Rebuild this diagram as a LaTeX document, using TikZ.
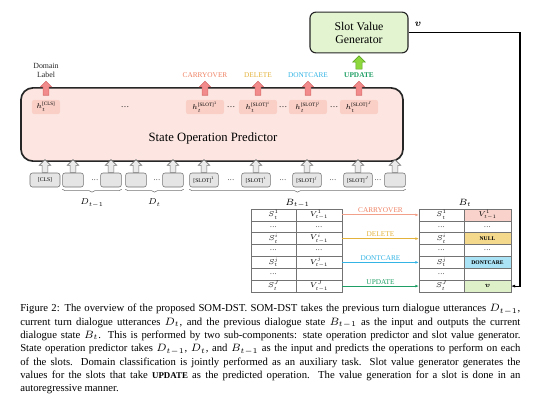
\RequirePackage{fix-cm}
\documentclass[tikz,border=0pt]{standalone}
\usepackage{amsmath, amssymb}
\usepackage{fontspec}
\setmainfont{Liberation Serif}
\usepackage{tikz}
\usetikzlibrary{arrows.meta, positioning, calc}
\usetikzlibrary{shapes, shapes.arrows, decorations.pathreplacing}
\usepackage{xcolor}
\DeclareMathSizes{5}{5}{3.6}{2.8}
\DeclareMathSizes{6}{6}{4.3}{3.3}
\DeclareMathSizes{6.5}{6.5}{4.6}{3.5}

\definecolor{gencol}{HTML}{E3F4D0}
\definecolor{sopcol}{HTML}{FDE6E1}
\definecolor{hcol}{HTML}{F9CFC6}
\definecolor{arrfill}{HTML}{F28C8C}
\definecolor{arrdraw}{HTML}{D66A6A}
\definecolor{grnfill}{HTML}{8ED83E}
\definecolor{grndraw}{HTML}{5DA624}
\definecolor{carrycol}{HTML}{EE8162}
\definecolor{delcol}{HTML}{E2B23A}
\definecolor{dccol}{HTML}{33B4E4}
\definecolor{updcol}{HTML}{1E9E64}
\definecolor{cellcarry}{HTML}{F9D3CB}
\definecolor{celldel}{HTML}{F4D88C}
\definecolor{celldc}{HTML}{ABE3F6}
\definecolor{cellupd}{HTML}{DDF0C8}

\begin{document}
\begin{tikzpicture}[
		x=0.025cm, y=-0.025cm,
		genbox/.style={draw=black!85, thick, rounded corners=0.15cm, fill=gencol, minimum width=2.45cm, minimum height=1.02cm, align=center, font=\fontsize{8.4}{9.3}\selectfont},
		sopbox/.style={draw=black!85, very thick, rounded corners=0.3cm, fill=sopcol, minimum width=9.55cm, minimum height=1.83cm},
		hbox/.style={rounded corners=0.06cm, fill=hcol, minimum width=0.95cm, minimum height=0.36cm, inner sep=1pt, font=\fontsize{5}{6}\selectfont},
		tok/.style={draw=black!55, fill=black!10, rounded corners=0.06cm, minimum width=0.52cm, minimum height=0.35cm, inner sep=0.5pt, font=\fontsize{4}{5}\selectfont},
		redarrow/.style={single arrow, shape border rotate=90, draw=arrdraw, fill=arrfill, inner sep=0.065cm, single arrow head extend=0.07cm, minimum height=0.35cm},
		grayarrow/.style={single arrow, shape border rotate=90, draw=black!55, fill=black!8, inner sep=0.065cm, single arrow head extend=0.07cm, minimum height=0.32cm},
		grnarrow/.style={single arrow, shape border rotate=90, draw=grndraw, fill=grnfill, inner sep=0.07cm, single arrow head extend=0.08cm, minimum height=0.33cm},
		oplab/.style={inner sep=1pt, font=\fontsize{5.2}{6}\selectfont},
		dotsnode/.style={inner sep=0pt, font=\fontsize{6}{7}\selectfont},
		cell/.style={draw=black!55, thin, minimum height=0.296cm, inner sep=0pt, outer sep=0pt, font=\fontsize{5}{5}\selectfont},
		brace/.style={decorate, decoration={brace, mirror, amplitude=0.07cm}, draw=black!55, thin},
		oparrow/.style={->, thick, >={Latex[length=2.5pt]}}
		]

	\useasboundingbox (0,0) rectangle (541,403);

	% Generateur
	\node[genbox] (gen) at (359,32.5) {Slot Value\\Generator};
	\node[grnarrow, anchor=tip] (ga-gen) at ([yshift=-0.05cm]gen.south) {};
	\node[font=\fontsize{7}{8}\selectfont] (vlab) at (418,24) {$\boldsymbol{v}$};

	% Predicteur
	\node[sopbox] (sop) at (212,124.5) {};
	\node[font=\fontsize{9}{10}\selectfont] (soptxt) at (213,138) {State Operation Predictor};

	\node[hbox, minimum width=0.7cm] (hcls) at (46,107) {$h_t^{\text{[CLS]}}$};
	\node[hbox] (h1) at (205,107) {$h_t^{\text{[SLOT]}^1}$};
	\node[hbox] (hi) at (258,107) {$h_t^{\text{[SLOT]}^i}$};
	\node[hbox] (hj) at (308,107) {$h_t^{\text{[SLOT]}^j}$};
	\node[hbox] (hJ) at (359,107) {$h_t^{\text{[SLOT]}^J}$};
	\foreach \x [count=\k] in {125,231,283,334}
		\node[dotsnode] (dh\k) at (\x,107) {\dots};

	\foreach \n in {hcls,h1,hi,hj,hJ}
		\node[redarrow, anchor=tail] (ra-\n) at ([yshift=0.1cm]\n.north) {};

	\node[oplab, above=0.03cm of ra-hcls.tip, align=center, font=\fontsize{5.6}{6.6}\selectfont, text=black!85] (ldom) {Domain\\Label};
	\node[oplab, above=0.04cm of ra-h1.tip, text=carrycol] (lcarry) {CARRYOVER};
	\node[oplab, above=0.04cm of ra-hi.tip, text=delcol] (ldel) {DELETE};
	\node[oplab, above=0.04cm of ra-hj.tip, text=dccol] (ldc) {DONTCARE};
	\node[oplab, above=0.04cm of ra-hJ.tip, text=updcol, font=\fontsize{5.2}{6}\selectfont\bfseries] (lupd) {UPDATE};

	% Entrees
	\node[tok, minimum width=0.75cm] (cls) at (45,180) {[CLS]};
	\node[tok] (d1a) at (73,180) {};
	\node[tok] (d1b) at (111,180) {};
	\node[tok] (d2a) at (136,180) {};
	\node[tok] (d2b) at (173,180) {};
	\node[tok, minimum width=0.72cm] (s1) at (204,180) {[SLOT]$^1$};
	\node[tok, minimum width=0.72cm] (si) at (256,180) {[SLOT]$^i$};
	\node[tok, minimum width=0.72cm] (sj) at (307,180) {[SLOT]$^j$};
	\node[tok, minimum width=0.72cm] (sJ) at (358,180) {[SLOT]$^J$};
	\node[tok] (sl) at (395,180) {};
	\foreach \x [count=\k] in {95,157,231,283,333,378}
		\node[dotsnode, font=\fontsize{5}{6}\selectfont] (di\k) at (\x,180) {\dots};

	\foreach \n in {cls,d1a,d1b,d2a,d2b,s1,si,sj,sJ,sl}
		\node[grayarrow, anchor=tail] (ga-\n) at (\n.north) {};

	\draw[brace] ([yshift=-0.05cm]d1a.south west) -- ([yshift=-0.05cm]d1b.south east) node[midway, below=0.12cm, font=\fontsize{6}{7}\selectfont] (lDp) {$D_{t-1}$};
	\draw[brace] ([yshift=-0.05cm]d2a.south west) -- ([yshift=-0.05cm]d2b.south east) node[midway, below=0.12cm, font=\fontsize{6}{7}\selectfont] (lD) {$D_t$};
	\draw[brace] ([yshift=-0.05cm]s1.south west) -- ([yshift=-0.05cm]sl.south east) node[midway, below=0.12cm, font=\fontsize{6.5}{7}\selectfont] (lBp) {$B_{t-1}$};

	% Etats
	\foreach \k/\sa/\va in {1/{$S^1_t$}/{$V^1_{t-1}$}, 2/\dots/\dots, 3/{$S^i_t$}/{$V^i_{t-1}$}, 4/\dots/\dots, 5/{$S^j_t$}/{$V^j_{t-1}$}, 6/\dots/{}, 7/{$S^J_t$}/{$V^J_{t-1}$}} {
		\node[cell, minimum width=1.125cm] (bp\k) at (273.5,{209+(\k-0.5)*11.857}) {\sa};
		\node[cell, minimum width=1.15cm] (vp\k) at (319,{209+(\k-0.5)*11.857}) {\va};
	}
	\foreach \k/\sa/\va/\fc in {1/{$S^1_t$}/{$V^1_{t-1}$}/cellcarry, 2/\dots/\dots/white, 3/{$S^i_t$}/{\fontsize{4}{4}\selectfont\textbf{NULL}}/celldel, 4/\dots/\dots/white, 5/{$S^j_t$}/{\fontsize{4}{4}\selectfont\textbf{DONTCARE}}/celldc, 6/\dots/{}/white, 7/{$S^J_t$}/{$\boldsymbol{v}$}/cellupd} {
		\node[cell, minimum width=1.125cm] (bs\k) at (441.5,{209+(\k-0.5)*11.857}) {\sa};
		\node[cell, minimum width=1.175cm, fill=\fc] (bv\k) at (487.5,{209+(\k-0.5)*11.857}) {\va};
	}
	\node[font=\fontsize{6.5}{7}\selectfont] (lBt) at (465,203) {$B_t$};

	\draw[oparrow, draw=carrycol!75] (vp1) -- (bs1) node[midway, oplab, above, text=carrycol] {CARRYOVER};
	\draw[oparrow, draw=delcol] (vp3) -- (bs3) node[midway, oplab, above, text=delcol] {DELETE};
	\draw[oparrow, draw=dccol] (vp5) -- (bs5) node[midway, oplab, above, text=dccol] {DONTCARE};
	\draw[oparrow, draw=updcol] (vp7) -- (bs7) node[midway, oplab, above, text=updcol] {UPDATE};

	\coordinate (vturn) at (520,32.5);
	\draw[->, line width=0.8pt, >={Latex[length=3pt]}] (gen.east) -- (vturn) |- (bv7.east);

	% Legende
	\node[anchor=north west, text width=12.5cm, inner sep=0pt, align=justify, font=\fontsize{7.6}{9.46}\selectfont] (cap) at (20,304) {Figure 2: The overview of the proposed SOM-DST. SOM-DST takes the previous turn dialogue utterances $D_{t-1}$,\linebreak
	current turn dialogue utterances $D_t$, and the previous dialogue state $B_{t-1}$ as the input and outputs the current\linebreak
	dialogue state $B_t$. This is performed by two sub-components: state operation predictor and slot value generator.\linebreak
	State operation predictor takes $D_{t-1}$, $D_t$, and $B_{t-1}$ as the input and predicts the operations to perform on each\linebreak
	of the slots. Domain classification is jointly performed as an auxiliary task. Slot value generator generates the\linebreak
	values for the slots that take {\fontsize{6.3}{8}\selectfont\bfseries UPDATE} as the predicted operation. The value generation for a slot is done in an\linebreak
	autoregressive manner.};
\end{tikzpicture}
\end{document}
